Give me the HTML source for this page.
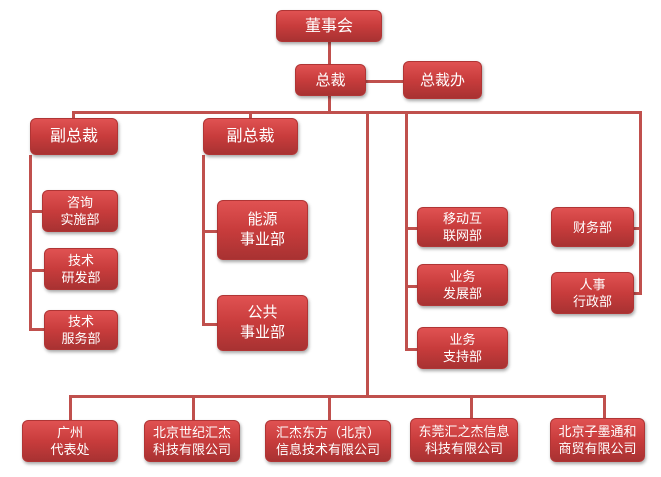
<!DOCTYPE html>
<html><head><meta charset="utf-8"><style>
body{margin:0;width:661px;height:477px;background:#fff;position:relative;overflow:hidden;font-family:"Liberation Sans","Noto Sans CJK SC",sans-serif}
.b{position:absolute;box-sizing:border-box;border-radius:6px;background:linear-gradient(#e05252,#c83c3c 50%,#a83232);color:#fff;display:flex;align-items:center;justify-content:center;text-align:center;font-size:13px;line-height:17px;box-shadow:1px 2px 3px rgba(0,0,0,.35);border:1px solid #b03535}
.l{position:absolute;background:#c0504d}
</style></head><body>
<!-- lines -->
<div class="l" style="left:328px;top:42px;width:3px;height:24px"></div>
<div class="l" style="left:366px;top:80px;width:38px;height:3px"></div>
<div class="l" style="left:328px;top:96px;width:3px;height:17px"></div>
<div class="l" style="left:72px;top:111px;width:570px;height:3px"></div>
<div class="l" style="left:72px;top:111px;width:3px;height:8px"></div>
<div class="l" style="left:249px;top:111px;width:3px;height:8px"></div>
<div class="l" style="left:366px;top:111px;width:3px;height:286px"></div>
<div class="l" style="left:405px;top:111px;width:3px;height:240px"></div>
<div class="l" style="left:639px;top:111px;width:3px;height:184px"></div>
<div class="l" style="left:29px;top:155px;width:3px;height:176px"></div>
<div class="l" style="left:29px;top:210px;width:14px;height:3px"></div>
<div class="l" style="left:29px;top:269px;width:15px;height:3px"></div>
<div class="l" style="left:29px;top:328px;width:15px;height:3px"></div>
<div class="l" style="left:202px;top:155px;width:3px;height:171px"></div>
<div class="l" style="left:202px;top:230px;width:15px;height:3px"></div>
<div class="l" style="left:202px;top:323px;width:15px;height:3px"></div>
<div class="l" style="left:405px;top:227px;width:12px;height:3px"></div>
<div class="l" style="left:405px;top:285px;width:12px;height:3px"></div>
<div class="l" style="left:405px;top:348px;width:12px;height:3px"></div>
<div class="l" style="left:634px;top:227px;width:8px;height:3px"></div>
<div class="l" style="left:634px;top:292px;width:8px;height:3px"></div>
<div class="l" style="left:69px;top:395px;width:537px;height:3px"></div>
<div class="l" style="left:69px;top:395px;width:3px;height:26px"></div>
<div class="l" style="left:192px;top:395px;width:3px;height:26px"></div>
<div class="l" style="left:328px;top:395px;width:3px;height:26px"></div>
<div class="l" style="left:470px;top:395px;width:3px;height:26px"></div>
<div class="l" style="left:603px;top:395px;width:3px;height:26px"></div>
<!-- boxes -->
<div class="b" style="left:276px;top:10px;width:106px;height:32px;font-size:16px">董事会</div>
<div class="b" style="left:295px;top:64px;width:71px;height:32px;font-size:15px">总裁</div>
<div class="b" style="left:403px;top:61px;width:79px;height:38px;font-size:15px">总裁办</div>
<div class="b" style="left:30px;top:118px;width:88px;height:37px;font-size:16px">副总裁</div>
<div class="b" style="left:203px;top:118px;width:95px;height:37px;font-size:16px">副总裁</div>
<div class="b" style="left:42px;top:190px;width:76px;height:42px">咨询<br>实施部</div>
<div class="b" style="left:44px;top:248px;width:74px;height:42px">技术<br>研发部</div>
<div class="b" style="left:44px;top:310px;width:74px;height:40px">技术<br>服务部</div>
<div class="b" style="left:217px;top:200px;width:91px;height:60px;font-size:15px;line-height:20px">能源<br>事业部</div>
<div class="b" style="left:217px;top:295px;width:91px;height:56px;font-size:15px;line-height:20px">公共<br>事业部</div>
<div class="b" style="left:417px;top:207px;width:91px;height:40px">移动互<br>联网部</div>
<div class="b" style="left:417px;top:264px;width:91px;height:42px">业务<br>发展部</div>
<div class="b" style="left:417px;top:327px;width:91px;height:42px">业务<br>支持部</div>
<div class="b" style="left:551px;top:207px;width:83px;height:40px">财务部</div>
<div class="b" style="left:551px;top:272px;width:83px;height:42px">人事<br>行政部</div>
<div class="b" style="left:22px;top:420px;width:96px;height:42px">广州<br>代表处</div>
<div class="b" style="left:144px;top:420px;width:96px;height:42px">北京世纪汇杰<br>科技有限公司</div>
<div class="b" style="left:265px;top:420px;width:126px;height:42px">汇杰东方（北京）<br>信息技术有限公司</div>
<div class="b" style="left:410px;top:418px;width:108px;height:44px">东莞汇之杰信息<br>科技有限公司</div>
<div class="b" style="left:550px;top:418px;width:95px;height:44px">北京子墨通和<br>商贸有限公司</div>
</body></html>
